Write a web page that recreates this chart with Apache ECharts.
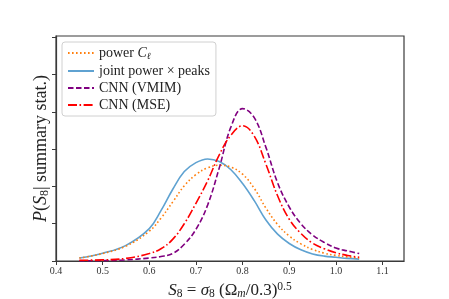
<!DOCTYPE html>
<html>
<head>
<meta charset="utf-8">
<script src="https://cdn.jsdelivr.net/npm/echarts@6/dist/echarts.min.js"></script>
<style>
html,body{margin:0;padding:0;background:#fff;}
#chart{width:449px;height:299px;}
</style>
</head>
<body>
<div id="chart"></div>
<script>
// S8 grid (x values)
var s8 = [0.45,0.5,0.55,0.6,0.625,0.65,0.675,0.7,0.725,0.75,0.775,0.8,0.825,0.85,0.875,0.9,0.925,0.95,0.975,1.0,1.025,1.05];
// posterior densities
var powerCl = [0.08,0.20,0.40,0.80,1.15,1.58,2.02,2.32,2.50,2.57,2.52,2.33,1.95,1.42,0.98,0.67,0.46,0.31,0.21,0.15,0.11,0.08];
var jointPeaks = [0.08,0.21,0.42,0.87,1.35,1.92,2.40,2.64,2.74,2.67,2.45,2.08,1.62,1.10,0.72,0.47,0.30,0.19,0.13,0.10,0.07,0.05];
var cnnVMIM = [0.00,0.01,0.03,0.08,0.12,0.20,0.45,0.85,1.50,2.50,3.60,4.09,3.85,3.05,2.10,1.45,1.00,0.70,0.50,0.35,0.27,0.20];
var cnnMSE = [0.02,0.03,0.07,0.20,0.33,0.58,1.00,1.55,2.15,2.85,3.38,3.63,3.35,2.60,1.75,1.12,0.74,0.48,0.33,0.22,0.15,0.10];
var xTicks = [0.4,0.5,0.6,0.7,0.8,0.9,1.0,1.1];
var yTicks = [0,1,2,3,4,5,6];

function pairs(ys){ return s8.map(function(x,i){ return [x, ys[i]]; }); }

var font = 'Liberation Serif';
var chart = echarts.init(document.getElementById('chart'), null, {renderer:'canvas'});
chart.setOption({
  animation:false,
  backgroundColor:'#fff',
  grid:{left:56,right:45,top:36,bottom:38,containLabel:false,outerBoundsMode:'none',
        show:true,borderColor:'#3a3a3a',borderWidth:1.2,backgroundColor:'transparent'},
  legend:{
    orient:'vertical', left:62, top:42,
    padding:[4,6,4,5], itemGap:3,
    itemWidth:26, itemHeight:14,
    itemStyle:{opacity:0},
    backgroundColor:'#fff', borderColor:'#d0d0d0', borderWidth:1, borderRadius:3,
    textStyle:{fontFamily:font,fontSize:14,color:'#222',
      rich:{i:{fontFamily:font,fontStyle:'italic',fontSize:14,color:'#222'},
            sub:{fontFamily:font,fontStyle:'italic',fontSize:9.5,color:'#222',padding:[6,0,0,0]}}},
    formatter:function(n){ if(n==='power C_l') return 'power {i|C}{sub|ℓ}'; return n; },
    data:['power C_l','joint power × peaks','CNN (VMIM)','CNN (MSE)']
  },
  xAxis:{
    type:'value', min:0.4, max:1.146,
    name:'{i|S}{sub|8} = {i|σ}{sub|8} (Ω{isub|m}/0.3){sup|0.5}',
    nameLocation:'middle', nameGap:15,
    nameTextStyle:{fontFamily:font,fontSize:17,color:'#222',
      rich:{i:{fontFamily:font,fontStyle:'italic',fontSize:17,color:'#222'},
            sub:{fontFamily:font,fontSize:11.5,color:'#222',padding:[7,0,0,0]},
            isub:{fontFamily:font,fontStyle:'italic',fontSize:11.5,color:'#222',padding:[7,0,0,0]},
            sup:{fontFamily:font,fontSize:11.5,color:'#222',padding:[0,0,8,0]}}},
    axisLine:{show:true,lineStyle:{color:'#3a3a3a',width:1.2}},
    axisTick:{show:true,inside:false,length:4,customValues:xTicks,lineStyle:{color:'#3a3a3a'}},
    axisLabel:{customValues:xTicks,fontFamily:font,fontSize:10,color:'#333',margin:5,
      formatter:function(v){return v.toFixed(1);}},
    splitLine:{show:false}
  },
  yAxis:{
    type:'value', min:0, max:6.04,
    name:'{i|P}({i|S}{sub|8}| summary stat.)',
    nameLocation:'middle', nameGap:5, nameRotate:90,
    nameTextStyle:{fontFamily:font,fontSize:18,color:'#222',
      rich:{i:{fontFamily:font,fontStyle:'italic',fontSize:18,color:'#222'},
            sub:{fontFamily:font,fontSize:12,color:'#222',padding:[8,0,0,0]}}},
    axisLine:{show:true,lineStyle:{color:'#3a3a3a',width:1.2}},
    axisTick:{show:true,inside:false,length:4,customValues:yTicks,lineStyle:{color:'#3a3a3a'}},
    axisLabel:{show:false},
    splitLine:{show:false}
  },
  series:[
    {name:'power C_l',type:'line',data:pairs(powerCl),smooth:0.4,showSymbol:false,symbol:'none',
     lineStyle:{color:'#ff7f0e',width:1.6,type:[1.6,2.4]},itemStyle:{color:'#ff7f0e'},z:3},
    {name:'joint power × peaks',type:'line',data:pairs(jointPeaks),smooth:0.4,showSymbol:false,symbol:'none',
     lineStyle:{color:'#5fa2d1',width:1.6,type:'solid'},itemStyle:{color:'#5fa2d1'},z:2},
    {name:'CNN (VMIM)',type:'line',data:pairs(cnnVMIM),smooth:0.4,showSymbol:false,symbol:'none',
     lineStyle:{color:'#800080',width:1.6,type:[5.5,2.5]},itemStyle:{color:'#800080'},z:4},
    {name:'CNN (MSE)',type:'line',data:pairs(cnnMSE),smooth:0.4,showSymbol:false,symbol:'none',
     lineStyle:{color:'#ff0000',width:1.6,type:[9,2.5,1.6,2.5]},itemStyle:{color:'#ff0000'},z:5}
  ]
});
</script>
</body>
</html>
